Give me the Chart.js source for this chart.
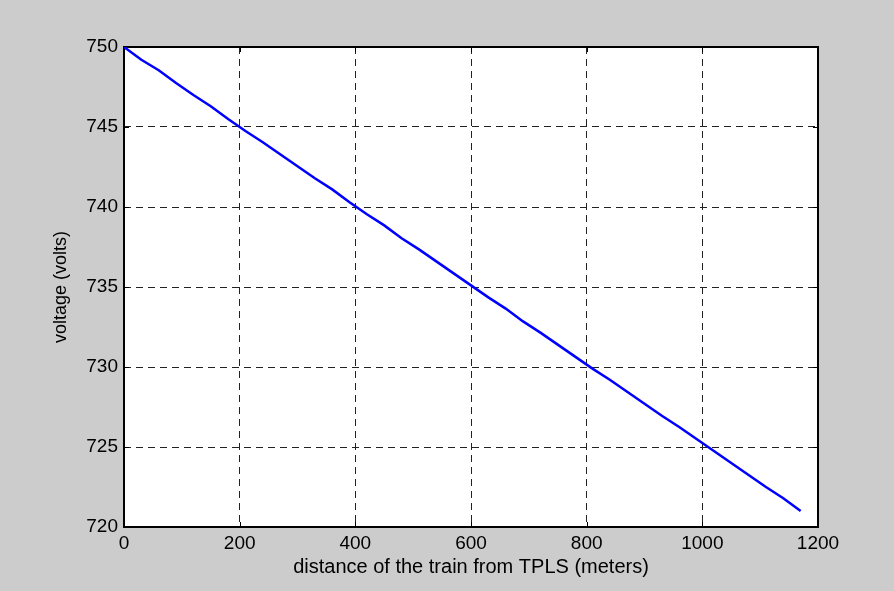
<!DOCTYPE html>
<html>
<head>
<meta charset="utf-8">
<script src="https://cdn.jsdelivr.net/npm/chart.js@4/dist/chart.umd.min.js"></script>
<style>
    html, body { margin: 0; padding: 0; background: #cccccc; }
    #box { position: relative; width: 894px; height: 591px; }
</style>
</head>
<body>
<div id="box"><canvas id="graficoTensao"></canvas></div>
<script>
// distancia do trem a partir da TPLS (m) e tensao lida (V)
const distancias = [0, 30, 60, 90, 120, 150, 180, 210, 240, 270, 300, 330, 360, 390,
    420, 450, 480, 510, 540, 570, 600, 630, 660, 690, 720, 750, 780, 810, 840, 870,
    900, 930, 960, 990, 1020, 1050, 1080, 1110, 1140, 1170];
const tensoes = [750.00, 749.20, 748.55, 747.75, 747.00, 746.30, 745.50, 744.75, 744.05, 743.30,
    742.55, 741.80, 741.10, 740.30, 739.55, 738.85, 738.05, 737.35, 736.60, 735.85,
    735.10, 734.35, 733.65, 732.85, 732.15, 731.40, 730.65, 729.90, 729.20, 728.45,
    727.70, 726.95, 726.25, 725.50, 724.75, 724.00, 723.25, 722.50, 721.80, 721.00];
const ticksX = [0, 200, 400, 600, 800, 1000, 1200];
const ticksY = [720, 725, 730, 735, 740, 745, 750];

const fonte = "'Liberation Sans', Arial, sans-serif";

// moldura preta e tracinhos internos, estilo matlab
const moldura = {
    id: "moldura",
    beforeDatasetsDraw(chart) {
        const { ctx, chartArea: a, scales } = chart;
        ctx.save();
        ctx.strokeStyle = "#000";
        ctx.lineWidth = 1;
        ticksX.forEach((v) => {
            const px = Math.round(scales.x.getPixelForValue(v)) + 0.5;
            ctx.beginPath();
            ctx.moveTo(px, a.bottom); ctx.lineTo(px, a.bottom - 5);
            ctx.moveTo(px, a.top); ctx.lineTo(px, a.top + 5);
            ctx.stroke();
        });
        ticksY.forEach((v) => {
            const py = Math.round(scales.y.getPixelForValue(v)) + 0.5;
            ctx.beginPath();
            ctx.moveTo(a.left, py); ctx.lineTo(a.left + 5, py);
            ctx.moveTo(a.right, py); ctx.lineTo(a.right - 5, py);
            ctx.stroke();
        });
        ctx.lineWidth = 2;
        ctx.strokeRect(a.left, a.top, a.right - a.left, a.bottom - a.top);
        ctx.restore();
    }
};

// fundo branco so na area do grafico
const fundo = {
    id: "fundo",
    beforeDraw(chart) {
        const { ctx, chartArea: a } = chart;
        ctx.save();
        ctx.fillStyle = "#fff";
        ctx.fillRect(a.left, a.top, a.right - a.left, a.bottom - a.top);
        ctx.restore();
    }
};

const semVirgula = (v) => String(v);

const ctx = document.getElementById("graficoTensao").getContext("2d");
new Chart(ctx, {
    type: "line",
    data: {
        datasets: [{
            data: distancias.map((d, i) => ({ x: d, y: tensoes[i] })),
            borderColor: "#0000ff",
            borderWidth: 2.5,
            pointRadius: 0,
            tension: 0,
            fill: false
        }]
    },
    options: {
        responsive: true,
        maintainAspectRatio: false,
        animation: false,
        layout: { padding: { top: 47, right: 76, left: 50, bottom: 12 } },
        plugins: {
            legend: { display: false },
            tooltip: { enabled: false }
        },
        scales: {
            x: {
                type: "linear",
                min: 0,
                max: 1200,
                afterBuildTicks: (s) => { s.ticks = ticksX.map((v) => ({ value: v })); },
                afterFit: (s) => { s.height = 591 - 527 - 12; },
                ticks: { color: "#000", font: { family: fonte, size: 19 }, padding: 5, callback: semVirgula },
                grid: { color: "#222", lineWidth: 1, drawTicks: false },
                border: { display: false, dash: [7, 5] },
                title: {
                    display: true,
                    text: "distance of the train from TPLS (meters)",
                    color: "#000",
                    font: { family: fonte, size: 20 },
                    padding: { top: 0, bottom: 0 }
                }
            },
            y: {
                type: "linear",
                min: 720,
                max: 750,
                afterBuildTicks: (s) => { s.ticks = ticksY.map((v) => ({ value: v })); },
                afterFit: (s) => { s.width = 124 - 50; },
                ticks: { color: "#000", font: { family: fonte, size: 19 }, padding: 6, callback: semVirgula },
                grid: { color: "#222", lineWidth: 1, drawTicks: false },
                border: { display: false, dash: [7, 5] },
                title: {
                    display: true,
                    text: "voltage (volts)",
                    color: "#000",
                    font: { family: fonte, size: 18 },
                    padding: { top: 0, bottom: 0 }
                }
            }
        }
    },
    plugins: [fundo, moldura]
});
</script>
</body>
</html>
